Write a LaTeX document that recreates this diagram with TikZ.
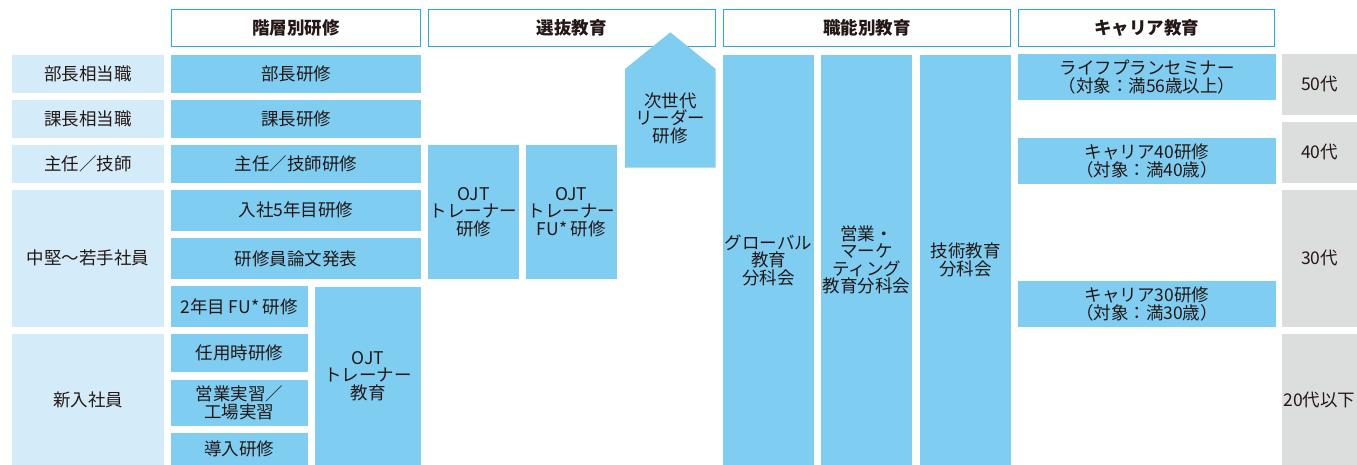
\documentclass[tikz,border=0pt]{standalone}
\usepackage{fontspec}
\setmainfont{Noto Sans CJK JP}
\definecolor{boxblue}{HTML}{7FCDF1}
\definecolor{lightblue}{HTML}{D4ECFA}
\definecolor{agegray}{HTML}{DCDDDD}
\definecolor{hdrline}{HTML}{29ABE2}
\definecolor{txt}{HTML}{231815}
\newcommand\bx[7]{%
  \node[#6, minimum width={(#4-#2)*1pt}, minimum height={(#5-#3)*1pt}]
    (#1) at ({(#2+#4)/2},{(#3+#5)/2}) {#7};}
\tikzset{
  every node/.style={inner sep=0pt, outer sep=0pt, text=txt, align=center,
    font=\fontsize{17.5}{17.5}\selectfont},
  hdr/.style={draw=hdrline, line width=1pt, fill=white,
    font=\fontsize{17.5}{17.5}\selectfont\bfseries},
  lvl/.style={fill=lightblue},
  prog/.style={fill=boxblue},
  agebox/.style={fill=agegray},
}
\begin{document}
\begin{tikzpicture}[x=1pt,y=-1pt]
\useasboundingbox (0,0) rectangle (1357,465);
% headers
\bx{h1}{171.5}{9.8}{420.5}{46.2}{hdr}{階層別研修}
\bx{h2}{428.8}{9.8}{715}{46.2}{hdr}{選抜教育}
\bx{h3}{723.5}{9.8}{1010}{46.2}{hdr}{職能別教育}
\bx{h4}{1018.5}{9.8}{1274.5}{46.2}{hdr}{キャリア教育}
% left column
\bx{l1}{12}{55}{164}{92.7}{lvl}{部長相当職}
\bx{l2}{12}{100}{164}{137.7}{lvl}{課長相当職}
\bx{l3}{12}{145}{164}{182.7}{lvl}{主任／技師}
\bx{l4}{12}{190}{164}{326.7}{lvl}{中堅～若手社員}
\bx{l5}{12}{334}{164}{465}{lvl}{新入社員}
% 階層別研修
\bx{a1}{171}{55}{421}{92.7}{prog}{部長研修}
\bx{a2}{171}{100}{421}{137.7}{prog}{課長研修}
\bx{a3}{171}{145}{421}{182.7}{prog}{主任／技師研修}
\bx{a4}{171}{190}{421}{230.7}{prog}{入社5年目研修}
\bx{a5}{171}{238.3}{421}{278.7}{prog}{研修員論文発表}
\bx{a6}{171}{286}{307.7}{326.7}{prog}{2年目\hspace{0.2em}FU*\hspace{0.2em}研修}
\bx{a7}{171}{334}{307.7}{371.7}{prog}{任用時研修}
\bx{a8}{171}{380}{307.7}{425.7}{prog}{営業実習／\\工場実習}
\bx{a9}{171}{433}{307.7}{465}{prog}{導入研修}
\bx{a10}{315}{286.5}{421}{465}{prog}{OJT\\トレーナー\\教育}
% 選抜教育
\bx{b1}{428.3}{145}{519}{278.7}{prog}{OJT\\トレーナー\\研修}
\bx{b2}{526}{145}{616.7}{278.7}{prog}{OJT\\トレーナー\\FU*\hspace{0.2em}研修}
\fill[boxblue] (625,69) -- (670.3,32.3) -- (715.7,69) -- (715.7,167.7) -- (625,167.7) -- cycle;
\node (b3) at (670.3,118.4) {次世代\\リーダー\\研修};
% 職能別教育
\bx{c1}{723}{55}{814}{465}{prog}{グローバル\\教育\\分科会}
\bx{c2}{821}{55}{912}{465}{prog}{営業・\\マーケ\\ティング\\教育分科会}
\bx{c3}{920}{55}{1011}{465}{prog}{技術教育\\分科会}
% キャリア教育
\bx{d1}{1018}{54}{1276}{99.7}{prog}{ライフプランセミナー\\（対象：満56歳以上）}
\bx{d2}{1018}{138}{1276}{183.7}{prog}{キャリア40研修\\（対象：満40歳）}
\bx{d3}{1018}{281}{1276}{326.7}{prog}{キャリア30研修\\（対象：満30歳）}
% age column
\bx{e1}{1282}{54}{1357}{114.7}{agebox}{50代}
\bx{e2}{1282}{122}{1357}{182.7}{agebox}{40代}
\bx{e3}{1282}{190}{1357}{326.7}{agebox}{30代}
\bx{e4}{1282}{334}{1357}{465}{agebox}{20代以下}
\end{tikzpicture}
\end{document}
